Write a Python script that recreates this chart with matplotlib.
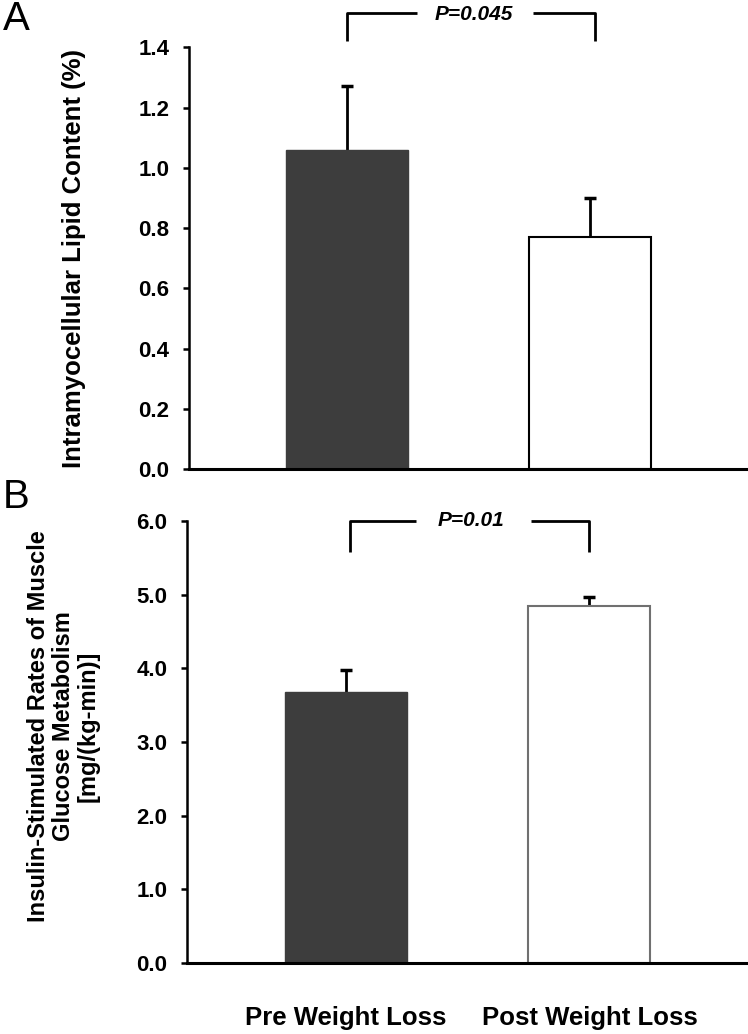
import matplotlib
matplotlib.use("Agg")
import matplotlib.pyplot as plt

# data
groups = ["Pre Weight Loss", "Post Weight Loss"]
imcl_mean = [1.06, 0.77]
imcl_sem = [0.21, 0.13]
glucose_mean = [3.68, 4.84]
glucose_sem = [0.30, 0.13]
imcl_ticks = [0.0, 0.2, 0.4, 0.6, 0.8, 1.0, 1.2, 1.4]
glucose_ticks = [0.0, 1.0, 2.0, 3.0, 4.0, 5.0, 6.0]
p_top = "P=0.045"
p_bottom = "P=0.01"

plt.rcParams['font.family'] = ['Liberation Sans', 'DejaVu Sans']

fig = plt.figure(figsize=(7.48, 10.34), dpi=100)
ax1 = fig.add_axes([0.2527, 0.5464, 0.7473, 0.4079])
ax2 = fig.add_axes([0.2500, 0.0687, 0.7500, 0.4275])

x = [0, 1]
dark = '#3d3d3d'


def style_axis(ax, ticks):
    for s in ['top', 'right']:
        ax.spines[s].set_visible(False)
    ax.spines['left'].set_linewidth(1.8)
    ax.spines['bottom'].set_linewidth(2.2)
    ax.set_xlim(-0.65, 1.65)
    ax.set_ylim(ticks[0], ticks[-1])
    ax.set_yticks(ticks)
    ax.set_yticklabels([f"{t:.1f}" for t in ticks], fontweight='bold', fontsize=16)
    ax.tick_params(axis='y', length=4, width=1.8, pad=10)
    ax.tick_params(axis='x', length=0)
    ax.set_xticks([])


def upper_err(ax, means, errs):
    # only the upper half of the error bar is shown
    _, caps, _ = ax.errorbar(x, means, yerr=[[0, 0], errs], fmt='none',
                             ecolor='black', elinewidth=2, capsize=4,
                             capthick=2.5, zorder=1)
    caps[0].set_visible(False)


# panel A
ax1.bar(x[0], imcl_mean[0], width=0.5, color=dark, edgecolor=dark, zorder=2)
ax1.bar(x[1], imcl_mean[1], width=0.5, color='white', edgecolor='black',
        linewidth=1.5, zorder=2)
upper_err(ax1, imcl_mean, imcl_sem)
style_axis(ax1, imcl_ticks)
ax1.set_ylabel("Intramyocellular Lipid Content (%)", fontsize=18.5,
               fontweight='bold')
ax1.yaxis.set_label_coords(-0.184, 0.5)

# bracket A
bk = dict(color='black', lw=2, clip_on=False, solid_capstyle='butt')
ax1.plot([0.0, 0.0, 0.29], [1.42, 1.515, 1.515], **bk)
ax1.plot([0.765, 1.02, 1.02], [1.515, 1.515, 1.42], **bk)
ax1.text(0.52, 1.508, p_top, ha='center', va='center',
         fontweight='bold', style='italic', fontsize=15, clip_on=False)

# panel B
ax2.bar(x[0], glucose_mean[0], width=0.5, color=dark, edgecolor=dark, zorder=2)
ax2.bar(x[1], glucose_mean[1], width=0.5, color='white', edgecolor='#707070',
        linewidth=1.5, zorder=2)
upper_err(ax2, glucose_mean, glucose_sem)
style_axis(ax2, glucose_ticks)
ax2.set_ylabel("Insulin-Stimulated Rates of Muscle\nGlucose Metabolism\n[mg/(kg-min)]",
               fontsize=17, fontweight='bold', linespacing=1.12)
ax2.yaxis.set_label_coords(-0.155, 0.535)

ax2.plot([0.02, 0.02, 0.29], [5.58, 6.0, 6.0], **bk)
ax2.plot([0.76, 1.0, 1.0], [6.0, 6.0, 5.58], **bk)
ax2.text(0.515, 6.0, p_bottom, ha='center', va='center',
         fontweight='bold', style='italic', fontsize=15, clip_on=False)

# category labels under the bottom panel
for xi, g in zip(x, groups):
    ax2.text(xi, -0.75, g, ha='center', va='center',
             fontweight='bold', fontsize=18.5, clip_on=False)

fig.text(0.004, 0.982, "A", fontsize=29, va='center', ha='left')
fig.text(0.004, 0.519, "B", fontsize=29, va='center', ha='left')

fig.savefig("out.png", dpi=100, facecolor='white')
